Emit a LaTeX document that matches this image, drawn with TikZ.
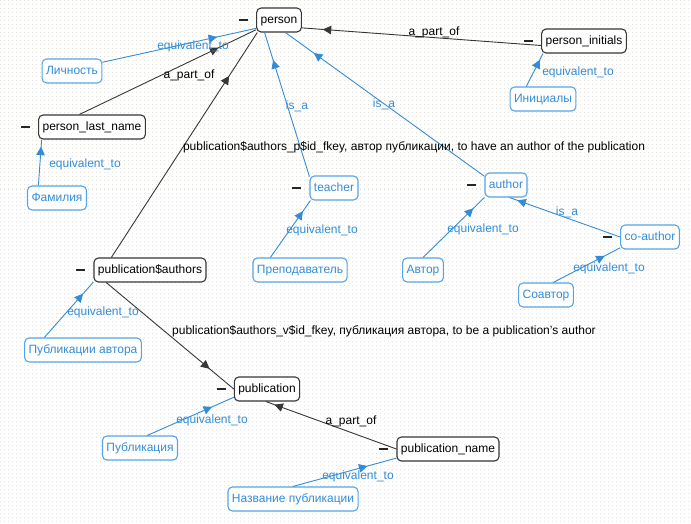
\documentclass[tikz,border=0pt]{standalone}
\usepackage{fontspec}
\setmainfont{Liberation Sans}
\usetikzlibrary{arrows.meta,decorations.markings}
\definecolor{bl}{RGB}{52,140,214}
\definecolor{blb}{RGB}{85,165,230}
\definecolor{dk}{RGB}{55,55,55}
\definecolor{dotc}{RGB}{228,228,220}
\newcommand\fs{\fontsize{12}{14}\selectfont}
\tikzset{
 cls/.style={draw=dk, line width=1.1pt, rounded corners=4.5pt, fill=white, minimum height=24pt, inner xsep=4pt, inner ysep=2pt, text height=8.8pt, text depth=2.6pt, font=\fs, text=black},
 inst/.style={cls, draw=blb, text=bl},
 rel/.style={color=dk, line width=0.9pt},
 eqv/.style={color=bl, line width=0.9pt},
 tipat/.style={postaction={decorate}, decoration={markings, mark=at position #1 with {\arrow{Triangle[length=8.5pt,width=8.5pt]}}}},
 lbl/.style={font=\fs, inner sep=0pt, text=black},
 blbl/.style={lbl, text=bl},
 minusbar/.style={line width=2.4pt, draw=black!85},
}
\begin{document}
\begin{tikzpicture}[x=1pt,y=-1pt]
\useasboundingbox (0,0) rectangle (691,524);
\fill[white] (0,0) rectangle (691,524);
\foreach \yy in {1,5,...,523} \draw[dotc, line width=1pt, dash pattern=on 1pt off 3pt] (0,\yy) -- (691,\yy);

% nodes
\node[cls]  (person)      at (279,20)  {person};
\node[cls]  (pi)          at (584,41)  {person\_initials};
\node[inst] (lich)        at (72,71)   {Личность};
\node[cls]  (pln)         at (92,127)  {person\_last\_name};
\node[inst] (fam)         at (57,198)  {Фамилия};
\node[inst] (inic)        at (543,99)  {Инициалы};
\node[inst] (teacher)     at (334,188) {teacher};
\node[inst] (author)      at (506,185) {author};
\node[inst] (coauthor)    at (650,237) {co-author};
\node[inst] (prep)        at (300,270) {Преподаватель};
\node[inst] (avtor)       at (423,270) {Автор};
\node[inst] (soavtor)     at (546,295) {Соавтор};
\node[cls]  (pa)          at (150,270) {publication\$authors};
\node[inst] (pubavt)      at (83,350)  {Публикации автора};
\node[cls]  (publication) at (267,389) {publication};
\node[inst] (publ)        at (140,448) {Публикация};
\node[cls]  (pn)          at (448,449) {publication\_name};
\node[inst] (nazv)        at (293,499) {Название публикации};

% minus marks
\foreach \n in {person,pi,pln,teacher,author,coauthor,pa,publication,pn}
  \draw[minusbar] ([xshift=-17pt]\n.west) -- ([xshift=-8pt]\n.west);

% connectors
\draw[rel, tipat=0.913] (pi.-174) -- (person.-19);
\draw[eqv, tipat=0.746] (lich.16) -- (person.-160);
\draw[rel, tipat=0.787] (pln.135) -- (person.-157);
\draw[eqv, tipat=0.845] (fam.146) -- (pln.-166);
\draw[rel, tipat=0.807] (pa.162) -- (person.-150);
\draw[eqv, tipat=0.809] (teacher.155) -- (person.-139);
\draw[eqv, tipat=0.857] (author.158) -- (person.-63);
\draw[eqv, tipat=0.81] (inic.143) -- (pi.-163);
\draw[eqv, tipat=0.815] (prep.157) -- (teacher.-152);
\draw[eqv, tipat=0.82] (avtor.90) -- (author.-150);
\draw[eqv, tipat=0.93] (coauthor.180) -- (author.-74);
\draw[eqv, tipat=0.77] (soavtor.60) -- (coauthor.-160);
\draw[eqv, tipat=0.79] (pubavt.162) -- (pa.-168);
\draw[rel, tipat=0.81] (pa.-164) -- (publication.180);
\draw[eqv, tipat=0.75] (publ.60) -- (publication.-166);
\draw[rel, tipat=0.935] (pn.180) -- (publication.-95);
\draw[eqv, tipat=0.72] (nazv.90) -- (pn.-170);

% connector labels
\node[lbl]  (l1)  at (434,32)  {a\_part\_of};
\node[blbl] (l2)  at (193,46)  {equivalent\_to};
\node[lbl]  (l3)  at (189,75)  {a\_part\_of};
\node[blbl] (l4)  at (85,164)  {equivalent\_to};
\node[lbl]  (l5)  at (414,147) {publication\$authors\_p\$id\_fkey, автор публикации, to have an author of the publication};
\node[blbl] (l6)  at (297,106) {is\_a};
\node[blbl] (l7)  at (384,104) {is\_a};
\node[blbl] (l8)  at (578,72)  {equivalent\_to};
\node[blbl] (l9)  at (322,230) {equivalent\_to};
\node[blbl] (l10) at (483,229) {equivalent\_to};
\node[blbl] (l11) at (567,212) {is\_a};
\node[blbl] (l12) at (609,268) {equivalent\_to};
\node[blbl] (l13) at (103,312) {equivalent\_to};
\node[lbl]  (l14) at (384,331) {publication\$authors\_v\$id\_fkey, публикация автора, to be a publication's author};
\node[blbl] (l15) at (212,420) {equivalent\_to};
\node[lbl]  (l16) at (351,421) {a\_part\_of};
\node[blbl] (l17) at (358,476) {equivalent\_to};
\end{tikzpicture}
\end{document}
